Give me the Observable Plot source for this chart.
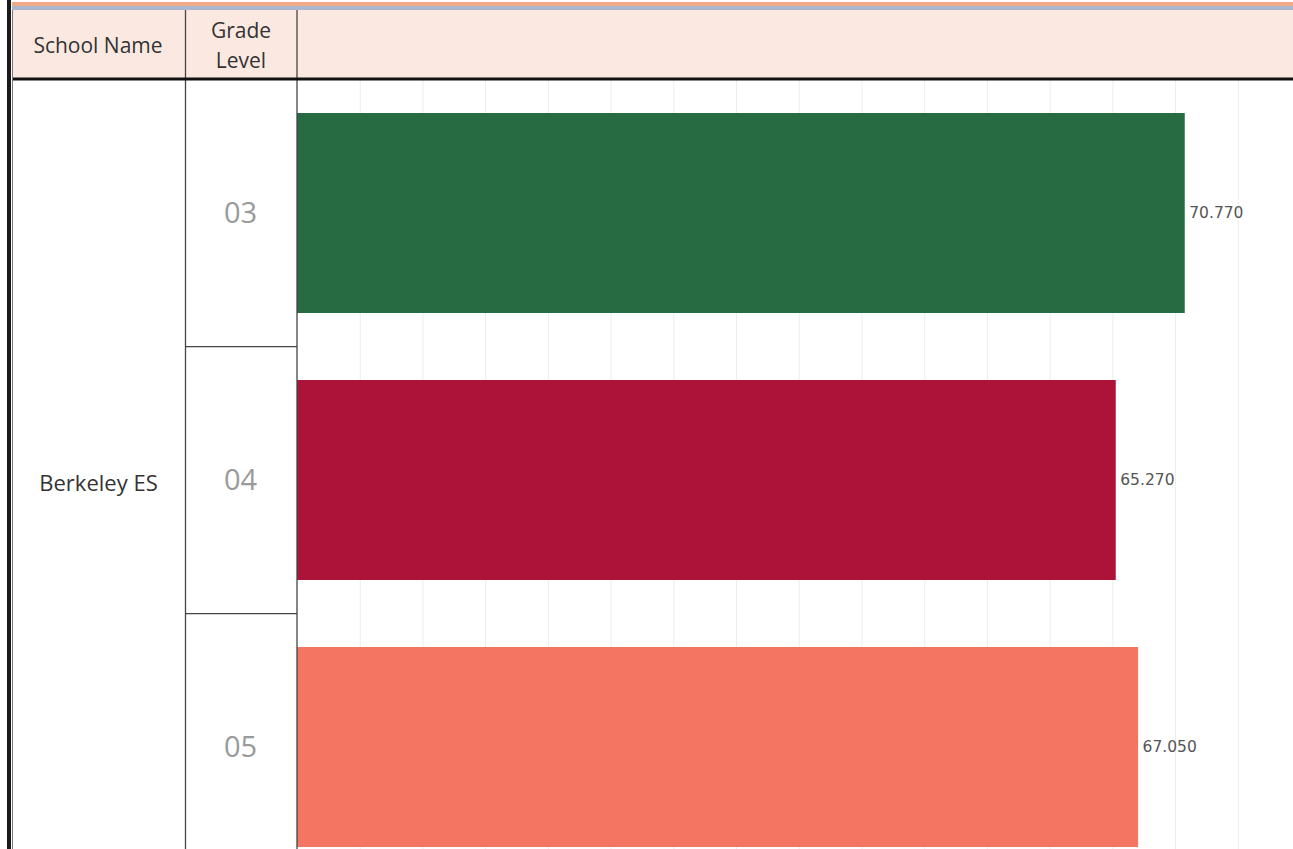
<!DOCTYPE html>
<html>
<head>
<meta charset="utf-8">
<script src="https://cdn.jsdelivr.net/npm/d3@7"></script>
<script src="https://cdn.jsdelivr.net/npm/@observablehq/plot@0.6"></script>
<style>
  html, body { margin: 0; padding: 0; background: #fff; }
  #wrap { position: relative; width: 1293px; height: 849px; overflow: hidden; }
  #wrap svg { position: absolute; left: 0; top: 0; overflow: hidden; }
</style>
</head>
<body>
<div id="wrap"></div>
<script>
// Data
const schools = ["Berkeley ES"];
const grades = ["03", "04", "05"];
const values = [70.77, 65.27, 67.05];
const barColors = ["#266b41", "#ad1338", "#f47562"];
const headers = ["School Name", "Grade\nLevel"];

const data = grades.map((g, i) => ({school: schools[0], grade: g, value: values[i], color: barColors[i]}));

const W = 1293, H = 849;
const font = "'Open Sans', sans-serif";

const chart = Plot.plot({
  width: W,
  height: H,
  marginLeft: 297,
  marginRight: 0,
  marginTop: 80,
  marginBottom: 0,
  style: {fontFamily: font, background: "transparent"},
  x: {domain: [0, 79.4], range: [297, W], axis: null},
  y: {domain: grades, range: [80, 881], paddingInner: 0.25, paddingOuter: 0.125, axis: null},
  marks: [
    Plot.gridX(d3.range(5, 80, 5), {stroke: "#ececec", strokeOpacity: 1, strokeWidth: 1}),
    Plot.barX(data, {x: "value", y: "grade", fill: "color"}),
    Plot.text(data, {x: "value", y: "grade", text: d => d3.format(".3f")(d.value), textAnchor: "start", dx: 4, fontSize: 15.5, fontFamily: "'DejaVu Sans', sans-serif", fill: "#555"}),
    Plot.text(data, {y: "grade", text: "grade", frameAnchor: "left", dx: -57, textAnchor: "middle", fontSize: 29, fill: "#9a9a9a"}),
    Plot.text(schools, {y: () => grades[Math.floor(grades.length / 2)], text: d => d, frameAnchor: "left", dx: -199, textAnchor: "middle", fontSize: 22, fill: "#333", dy: 3})
  ]
});

document.getElementById("wrap").appendChild(chart);

// Table frame (layout decoration)
const svgSel = d3.select(chart);
const yS = chart.scale("y");
const step = yS.step;
const decoG = svgSel.insert("g", ":first-child");
const frameG = svgSel.append("g");

// header background
decoG.append("rect").attr("x", 12).attr("y", 10).attr("width", W - 12).attr("height", 69).attr("fill", "#fbe9e1");
// top colour strips
frameG.append("rect").attr("x", 12).attr("y", 2).attr("width", W).attr("height", 4).attr("fill", "#f2a98a");
frameG.append("rect").attr("x", 12).attr("y", 6).attr("width", W).attr("height", 4).attr("fill", "#aab8cf");

// row separators in grade column
grades.slice(1).forEach(g => {
  const yb = yS.apply(g) - step * 0.125;
  frameG.append("line").attr("x1", 185).attr("x2", 297).attr("y1", yb).attr("y2", yb).attr("stroke", "#444").attr("stroke-width", 1.3);
});
// vertical lines
frameG.append("line").attr("x1", 185.5).attr("x2", 185.5).attr("y1", 10).attr("y2", H).attr("stroke", "#444").attr("stroke-width", 1.3);
frameG.append("line").attr("x1", 297).attr("x2", 297).attr("y1", 10).attr("y2", H).attr("stroke", "#444").attr("stroke-width", 1.3);
// header bottom
frameG.append("line").attr("x1", 12).attr("x2", W).attr("y1", 79).attr("y2", 79).attr("stroke", "#111").attr("stroke-width", 3);
// left border
frameG.append("rect").attr("x", 7).attr("y", 0).attr("width", 4).attr("height", H).attr("fill", "#1a1a1a");
frameG.append("line").attr("x1", 12.5).attr("x2", 12.5).attr("y1", 10).attr("y2", H).attr("stroke", "#777").attr("stroke-width", 1);

// header texts
frameG.append("text").attr("x", 98).attr("y", 45).attr("text-anchor", "middle").attr("dominant-baseline", "central")
  .attr("font-family", font).attr("font-size", 21).attr("fill", "#333").text(headers[0]);
headers[1].split("\n").forEach((t, i) => {
  frameG.append("text").attr("x", 241).attr("y", 30 + i * 30).attr("text-anchor", "middle").attr("dominant-baseline", "central")
    .attr("font-family", font).attr("font-size", 21).attr("fill", "#333").text(t);
});
</script>
</body>
</html>
